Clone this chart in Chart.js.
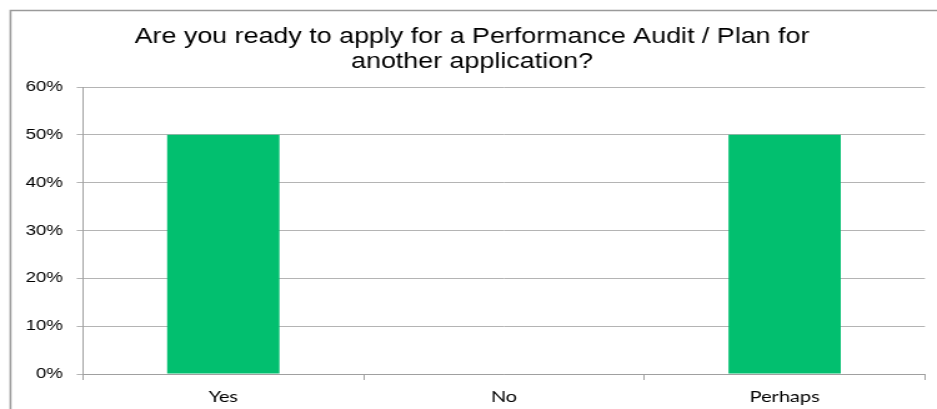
<!DOCTYPE html>
<html>
<head>
<meta charset="utf-8">
<script src="https://cdn.jsdelivr.net/npm/chart.js@4"></script>
<style>
  html, body { margin: 0; padding: 0; background: #fff; overflow: hidden; }
  /* the slide graphic is drawn narrow and widened horizontally */
  #wrap { width: 750px; height: 409px; transform: scaleX(1.2493); transform-origin: 0 0; }
</style>
</head>
<body>
<div id="wrap"><canvas id="myChart" width="750" height="409"></canvas></div>
<script>
const categories = ['Yes', 'No', 'Perhaps'];
const answers = [50, 0, 50];
const yTicks = [0, 10, 20, 30, 40, 50, 60];

// frame line along the top and left of the chart box
const frame = {
    id: 'frame',
    beforeDraw(chart) {
        const c = chart.ctx;
        c.save();
        c.strokeStyle = '#9a9a9a';
        c.lineWidth = 1.6;
        c.beginPath();
        c.moveTo(8.4, chart.height);
        c.lineTo(8.4, 10.5);
        c.lineTo(chart.width, 10.5);
        c.stroke();
        c.restore();
    }
};

const ctx = document.getElementById('myChart').getContext('2d');
const myChart = new Chart(ctx, {
    type: 'bar',
    data: {
        labels: categories,
        datasets: [{
            label: 'Answers',
            data: answers,
            backgroundColor: '#02bf6f',
            borderWidth: 0,
            categoryPercentage: 1,
            barPercentage: 0.4
        }]
    },
    plugins: [frame],
    options: {
        responsive: false,
        animation: false,
        layout: { padding: { left: 15.2, right: 9.6, top: 8, bottom: 0 } },
        plugins: {
            legend: { display: false },
            tooltip: { enabled: false },
            title: {
                display: true,
                text: ['Are you ready to apply for a Performance Audit / Plan for', 'another application?'],
                color: '#000',
                font: { family: 'Liberation Sans', size: 21.5, weight: 'normal', lineHeight: 1.163 },
                padding: { top: 16.5, bottom: 12.5 }
            }
        },
        scales: {
            x: {
                grid: {
                    offset: true,
                    drawOnChartArea: false,
                    drawTicks: true,
                    tickLength: 6,
                    color: '#a0a0a0'
                },
                border: { color: '#a0a0a0', width: 1 },
                ticks: {
                    color: '#000',
                    padding: 7,
                    font: { family: 'Lato', size: 16 }
                },
                afterFit(axis) { axis.height = 35; }
            },
            y: {
                min: 0,
                max: 60,
                afterBuildTicks(axis) { axis.ticks = yTicks.map(v => ({ value: v })); },
                grid: {
                    color: '#b4b4b4',
                    tickLength: 5,
                    drawTicks: true
                },
                border: { color: '#a0a0a0', width: 1 },
                ticks: {
                    color: '#000',
                    padding: 11,
                    font: { family: 'Liberation Sans', size: 15 },
                    callback: v => v + '%'
                },
                afterFit(axis) { axis.width = 51.2; }
            }
        }
    }
});
</script>
</body>
</html>
